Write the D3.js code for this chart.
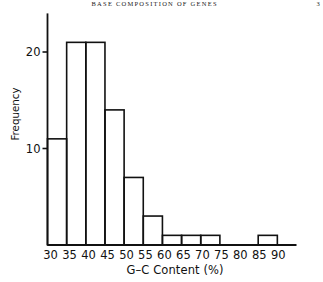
<!DOCTYPE html>
<html lang="en">
<head>
<meta charset="UTF-8">
<script src="https://d3js.org/d3.v7.min.js"></script>
<style>
  * { margin: 0; padding: 0; }
  body { background: #fff; }
  svg { display: block; }
  .lbl { font-family: "DejaVu Sans", sans-serif; fill: #111; }
</style>
</head>
<body>
<svg id="chart" width="323" height="282"></svg>
<script>
// bins of G-C content (%), lower edges, and counts
const binStarts = [30, 35, 40, 45, 50, 55, 60, 65, 70, 75, 80, 85];
const counts = [11, 21, 21, 14, 7, 3, 1, 1, 1, 0, 0, 1];
const binWidth = 5;
const xTicks = [30, 35, 40, 45, 50, 55, 60, 65, 70, 75, 80, 85, 90];
const yTicks = [10, 20];

const svg = d3.select('#chart');
const x = d3.scaleLinear().domain([30, 95]).range([47.5, 296.5]);
const y = d3.scaleLinear().domain([0, 24]).range([245, 13.4]);

// running header of the page
svg.append('text')
  .attr('x', 154).attr('y', 6)
  .attr('text-anchor', 'middle')
  .attr('font-family', '"Liberation Serif", serif')
  .attr('font-size', 6.5)
  .attr('textLength', 125)
  .attr('fill', '#222')
  .text('BASE COMPOSITION OF GENES');
svg.append('text')
  .attr('x', 318).attr('y', 6)
  .attr('text-anchor', 'middle')
  .attr('font-family', '"Liberation Serif", serif')
  .attr('font-size', 6.5)
  .attr('fill', '#222')
  .text('3');

// bars
svg.append('g').selectAll('rect')
  .data(binStarts.map((s, i) => ({ s, c: counts[i] })).filter(d => d.c > 0))
  .enter().append('rect')
  .attr('x', d => x(d.s))
  .attr('y', d => y(d.c))
  .attr('width', d => x(d.s + binWidth) - x(d.s))
  .attr('height', d => y(0) - y(d.c))
  .attr('fill', 'none')
  .attr('stroke', '#111')
  .attr('stroke-width', 1.6);

// axes lines
svg.append('line')
  .attr('x1', x(30)).attr('x2', x(30))
  .attr('y1', y(24)).attr('y2', y(0))
  .attr('stroke', '#111').attr('stroke-width', 1.8);
svg.append('line')
  .attr('x1', x(30)).attr('x2', x(95))
  .attr('y1', y(0)).attr('y2', y(0))
  .attr('stroke', '#111').attr('stroke-width', 1.8);

// y ticks
const yt = svg.append('g');
yt.selectAll('line').data(yTicks).enter().append('line')
  .attr('x1', x(30) - 5).attr('x2', x(30))
  .attr('y1', d => y(d)).attr('y2', d => y(d))
  .attr('stroke', '#111').attr('stroke-width', 1.6);
yt.selectAll('text').data(yTicks).enter().append('text')
  .attr('class', 'lbl')
  .attr('x', x(30) - 7).attr('y', d => y(d))
  .attr('dy', '0.36em')
  .attr('text-anchor', 'end')
  .attr('font-size', 11.5)
  .text(d => d);

// x tick labels
svg.append('g').selectAll('text').data(xTicks).enter().append('text')
  .attr('class', 'lbl')
  .attr('x', (d, i) => x(d) + 3 - i * 2 / (xTicks.length - 1))
  .attr('y', 259)
  .attr('text-anchor', 'middle')
  .attr('font-size', 11.5)
  .text(d => d);

// axis titles
svg.append('text')
  .attr('class', 'lbl')
  .attr('x', 175).attr('y', 274)
  .attr('text-anchor', 'middle')
  .attr('font-size', 11.5)
  .attr('textLength', 97)
  .text('G\u2013C Content (%)');

svg.append('text')
  .attr('class', 'lbl')
  .attr('transform', 'translate(19,114) rotate(-90)')
  .attr('text-anchor', 'middle')
  .attr('font-size', 10.3)
  .text('Frequency');
</script>
</body>
</html>
